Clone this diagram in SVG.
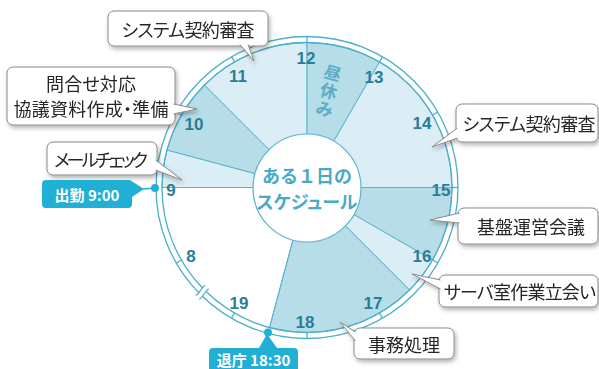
<svg xmlns="http://www.w3.org/2000/svg" width="599" height="369" viewBox="0 0 599 369">
<defs>
<filter id="sh" x="-20%" y="-30%" width="140%" height="170%">
<feDropShadow dx="1.5" dy="2.5" stdDeviation="2" flood-color="#000" flood-opacity="0.3"/>
</filter>
<style>
.sl{fill:#dbeef5;stroke:#5bb4cf;stroke-width:1}
.sd{fill:#b6dde8;stroke:#5bb4cf;stroke-width:1}
.ring{fill:none;stroke:#4bafcc;stroke-width:1.3}
.tick{stroke:#4bafcc;stroke-width:1.3}
.hr{font-family:"Liberation Sans",Arial,sans-serif;font-weight:bold;font-size:17px;fill:#2a7d98;text-anchor:middle;dominant-baseline:central}
.box{fill:#fff;stroke:#8a8a8a;stroke-width:1}
.ct{font-family:"Noto Sans CJK JP",sans-serif;font-size:18px;fill:#262626;text-anchor:middle;dominant-baseline:central;font-feature-settings:"palt"}
.badge{fill:#20b0d6}
.bt{font-family:"Noto Sans CJK JP",sans-serif;font-weight:bold;font-size:15px;fill:#fff;text-anchor:middle;dominant-baseline:central;font-feature-settings:"palt"}
.title{font-family:"Noto Sans CJK JP",sans-serif;font-weight:bold;font-size:18px;fill:#4aaac6;text-anchor:middle;dominant-baseline:central}
.hiru{font-family:"Noto Sans CJK JP",sans-serif;font-weight:bold;font-size:17px;fill:#5aaec8;text-anchor:middle;dominant-baseline:central}
</style>
</defs>
<rect width="599" height="369" fill="#fff"/>

<g id="clock">
<g id="sectors">
<path class="sl" d="M307,187.5 L162,187.5 A145,145 0 0 1 166.94,149.97 Z"/>
<path class="sd" d="M307,187.5 L166.94,149.97 A145,145 0 0 1 204.47,84.97 Z"/>
<path class="sl" d="M307,187.5 L204.47,84.97 A145,145 0 0 1 307,42.5 Z"/>
<path class="sd" d="M307,187.5 L307,42.5 A145,145 0 0 1 379.5,61.93 Z"/>
<path class="sl" d="M307,187.5 L379.5,61.93 A145,145 0 0 1 452,187.5 Z"/>
<path class="sd" d="M307,187.5 L452,187.5 A145,145 0 0 1 432.57,260 Z"/>
<path class="sl" d="M307,187.5 L432.57,260 A145,145 0 0 1 409.53,290.03 Z"/>
<path class="sd" d="M307,187.5 L409.53,290.03 A145,145 0 0 1 269.47,327.56 Z"/>
<line x1="307" y1="187.5" x2="269.47" y2="327.56" stroke="#5bb4cf" stroke-width="1"/>
<line x1="307" y1="187.5" x2="162" y2="187.5" stroke="#5bb4cf" stroke-width="1"/>
</g>
<circle class="ring" cx="307" cy="187.5" r="151"/>
<circle class="ring" cx="307" cy="187.5" r="145"/>
<g id="ticks">
<line class="tick" x1="181.43" y1="260" x2="176.2" y2="263"/>
<line class="tick" x1="181.43" y1="115" x2="176.2" y2="112"/>
<line class="tick" x1="234.5" y1="61.93" x2="231.5" y2="56.7"/>
<line class="tick" x1="307" y1="42.5" x2="307" y2="36.5"/>
<line class="tick" x1="379.5" y1="61.93" x2="382.5" y2="56.7"/>
<line class="tick" x1="432.57" y1="115" x2="437.8" y2="112"/>
<line class="tick" x1="452" y1="187.5" x2="458" y2="187.5"/>
<line class="tick" x1="432.57" y1="260" x2="437.8" y2="263"/>
<line class="tick" x1="379.5" y1="313.07" x2="382.5" y2="318.3"/>
<line class="tick" x1="307" y1="332.5" x2="307" y2="338.5"/>
<line class="tick" x1="234.5" y1="313.07" x2="231.5" y2="318.3"/>
</g>
<g id="break" transform="translate(202.3,292.2) rotate(45)">
<rect x="-2.5" y="-5" width="5" height="10" fill="#fff"/>
<path d="M-2.5,-7 C-5,-3 0,3 -2.5,7 M2.5,-7 C0,-3 5,3 2.5,7" fill="none" stroke="#4bafcc" stroke-width="1.2"/>
</g>
<circle cx="307" cy="188" r="54" fill="#fff" stroke="#5bb4cf" stroke-width="1.2"/>
<text class="title" x="307" y="174.5">ある１日の</text>
<text class="title" x="307" y="200.5" style="font-feature-settings:'palt'">スケジュール</text>
<g id="hours">
<text class="hr" x="306" y="58">12</text>
<text class="hr" x="374" y="77">13</text>
<text class="hr" x="422" y="123">14</text>
<text class="hr" x="441" y="190">15</text>
<text class="hr" x="422" y="256">16</text>
<text class="hr" x="373" y="303">17</text>
<text class="hr" x="305" y="322">18</text>
<text class="hr" x="239" y="303">19</text>
<text class="hr" x="191" y="256">8</text>
<text class="hr" x="171" y="190">9</text>
<text class="hr" x="194" y="124">10</text>
<text class="hr" x="238" y="76">11</text>
</g>
<g id="lunch">
<text class="hiru" x="333" y="72" transform="rotate(15,333,72)">昼</text>
<text class="hiru" x="329" y="90" transform="rotate(15,329,90)">休</text>
<text class="hiru" x="325" y="108" transform="rotate(15,325,108)">み</text>
</g>
</g>

<g id="callout-top" filter="url(#sh)">
<rect class="box" x="108" y="11" width="160" height="35" rx="6"/>
<polyline class="box" points="240,44.5 254,61 248,44.5"/>
<text class="ct" x="188" y="28.5" textLength="133" lengthAdjust="spacing">システム契約審査</text>
</g>
<g id="callout-toiawase" filter="url(#sh)">
<rect class="box" x="7" y="67" width="168" height="58" rx="6"/>
<polyline class="box" points="173.5,104 197,109 173.5,114"/>
<text class="ct" x="91" y="82.5" textLength="90" lengthAdjust="spacing">問合せ対応</text>
<text class="ct" x="91" y="107.5" textLength="155" lengthAdjust="spacing">協議資料作成・準備</text>
</g>
<g id="callout-mail" filter="url(#sh)">
<rect class="box" x="47" y="142" width="110" height="33" rx="6"/>
<polyline class="box" points="155.5,160 182,180 155.5,170"/>
<text class="ct" x="101" y="158.5" textLength="94" lengthAdjust="spacing">メールチェック</text>
</g>
<g id="callout-right" filter="url(#sh)">
<rect class="box" x="456" y="104" width="142" height="38" rx="6"/>
<polyline class="box" points="457.5,128 432,147 457.5,138"/>
<text class="ct" x="529" y="123" textLength="133" lengthAdjust="spacing">システム契約審査</text>
</g>
<g id="callout-kiban" filter="url(#sh)">
<rect class="box" x="458" y="208" width="140" height="36" rx="6"/>
<polyline class="box" points="459.5,213 430,220 459.5,223"/>
<text class="ct" x="531" y="226" textLength="108" lengthAdjust="spacing">基盤運営会議</text>
</g>
<g id="callout-server" filter="url(#sh)">
<rect class="box" x="439" y="275" width="159" height="32" rx="6"/>
<polyline class="box" points="440.5,280 412,274 440.5,289"/>
<text class="ct" x="520" y="291" textLength="152" lengthAdjust="spacing">サーバ室作業立会い</text>
</g>
<g id="callout-jimu" filter="url(#sh)">
<rect class="box" x="354" y="328" width="100" height="31" rx="6"/>
<polyline class="box" points="355.5,332 340,322 355.5,341"/>
<text class="ct" x="404" y="343.5" textLength="72" lengthAdjust="spacing">事務処理</text>
</g>

<g id="badge-start">
<path class="badge" d="M46,180 H130 L144,189 L132,197 V204 Q132,208 128,208 H46 Q42,208 42,204 V184 Q42,180 46,180 Z"/>
<line x1="143" y1="189" x2="155" y2="188" stroke="#20b0d6" stroke-width="1.5"/>
<circle class="badge" cx="155" cy="188" r="4"/>
<text class="bt" x="87" y="194">出勤 9:00</text>
</g>
<g id="badge-end">
<path class="badge" d="M213,348 H259 L267,334 L277,348 H294 Q298,348 298,352 V372 H209 V352 Q209,348 213,348 Z"/>
<circle class="badge" cx="268" cy="332.5" r="4"/>
<text class="bt" x="253.5" y="359.5">退庁 18:30</text>
</g>
</svg>
